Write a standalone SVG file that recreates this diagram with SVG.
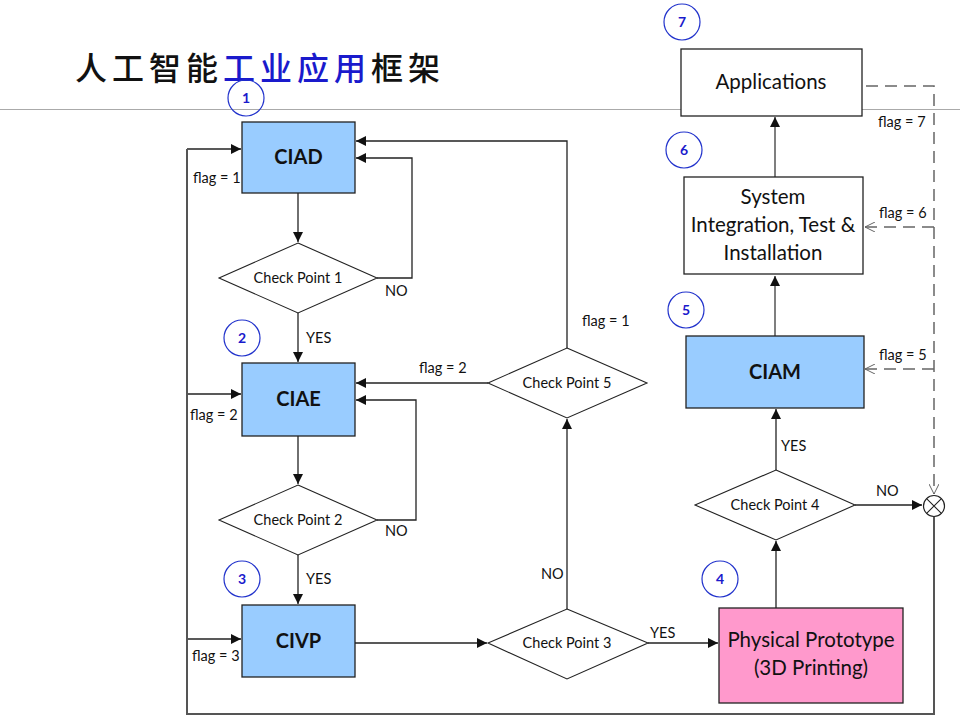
<svg xmlns="http://www.w3.org/2000/svg" width="960" height="720" viewBox="0 0 960 720">
<style>
.box{stroke:#222;stroke-width:1.3}
.blue{fill:#99CCFF}
.pink{fill:#FF99CC}
.white{fill:#fff}
.dia{fill:#fff;stroke:#222;stroke-width:1.1}
.lbl{font-family:Lato,"Liberation Sans",sans-serif;font-size:14.5px;fill:#111}
.big{font-family:Lato,"Liberation Sans",sans-serif;font-size:20.5px;fill:#111;text-anchor:middle}
.bold{font-family:Lato,"Liberation Sans",sans-serif;font-size:20px;font-weight:bold;fill:#111;text-anchor:middle}
.num circle{fill:none;stroke:#2233CC;stroke-width:1.2}
.num text{font-family:Lato,"Liberation Sans",sans-serif;font-size:14px;font-weight:bold;fill:#1a1acc;text-anchor:middle}
.c{fill:none;stroke:#222;stroke-width:1.3}
.g{fill:none;stroke:#555;stroke-width:2}
.d{fill:none;stroke:#666;stroke-width:1.5;stroke-dasharray:12,7}
</style>
<defs>
<marker id="a" viewBox="0 0 10 10" refX="10" refY="5" markerWidth="10" markerHeight="10" markerUnits="userSpaceOnUse" orient="auto">
<path d="M0,0 L10,5 L0,10 z" fill="#111"/>
</marker>
<marker id="o" viewBox="0 0 10 10" refX="10" refY="5" markerWidth="10" markerHeight="10" markerUnits="userSpaceOnUse" orient="auto">
<path d="M0,0 L10,5 L0,10" fill="none" stroke="#666" stroke-width="1"/>
</marker>
</defs>
<rect width="960" height="720" fill="#fff"/>
<g id="title">
<text x="75" y="80" font-family="'Noto Sans CJK SC',sans-serif" font-size="32" font-weight="500" letter-spacing="5" fill="#111">人工智能<tspan fill="#1a1acc">工业应用</tspan>框架</text>
<line x1="0" y1="109.5" x2="960" y2="109.5" stroke="#aaa" stroke-width="1"/>
</g>
<g id="connectors">
<path class="c" d="M298,193 V242" marker-end="url(#a)"/>
<path class="c" d="M377,278 H412 V158 H356" marker-end="url(#a)"/>
<path class="c" d="M298,313 V362" marker-end="url(#a)"/>
<path class="c" d="M298,436 V484" marker-end="url(#a)"/>
<path class="c" d="M377,520 H416 V400 H356" marker-end="url(#a)"/>
<path class="c" d="M298,555 V604" marker-end="url(#a)"/>
<path class="c" d="M187,639 H241" marker-end="url(#a)"/>
<path class="c" d="M187,394 H241" marker-end="url(#a)"/>
<path class="c" d="M187,149 H241" marker-end="url(#a)"/>
<path class="g" d="M187,149 V714 H934 V517"/>
<path class="c" d="M355,643 H487" marker-end="url(#a)"/>
<path class="c" d="M648,643 H718" marker-end="url(#a)"/>
<path class="c" d="M567,609 V419" marker-end="url(#a)"/>
<path class="c" d="M567,348 V141 H356" marker-end="url(#a)"/>
<path class="c" d="M488,383 H356" marker-end="url(#a)"/>
<path class="c" d="M776,608 V541" marker-end="url(#a)"/>
<path class="c" d="M776,470 V409" marker-end="url(#a)"/>
<path class="c" d="M855,505 H922" marker-end="url(#a)"/>
<path class="g" style="stroke-width:1.5" d="M775,336 V276" marker-end="url(#a)"/>
<path class="g" style="stroke-width:1.5" d="M775,177 V117" marker-end="url(#a)"/>
<path class="d" d="M866,86 H934 V494" marker-end="url(#o)"/>
<path class="d" d="M934,227 H865" marker-end="url(#o)"/>
<path class="d" d="M934,369 H865" marker-end="url(#o)"/>
<text class="lbl" x="193" y="183">flag = 1</text>
<text class="lbl" x="190" y="420">flag = 2</text>
<text class="lbl" x="192" y="661">flag = 3</text>
<text class="lbl" x="385" y="296">NO</text>
<text class="lbl" x="385" y="536">NO</text>
<text class="lbl" x="306" y="343">YES</text>
<text class="lbl" x="306" y="584">YES</text>
<text class="lbl" x="419" y="373">flag = 2</text>
<text class="lbl" x="582" y="326">flag = 1</text>
<text class="lbl" x="541" y="579">NO</text>
<text class="lbl" x="650" y="638">YES</text>
<text class="lbl" x="781" y="451">YES</text>
<text class="lbl" x="876" y="496">NO</text>
<text class="lbl" x="878" y="127">flag = 7</text>
<text class="lbl" x="879" y="218">flag = 6</text>
<text class="lbl" x="879" y="360">flag = 5</text>
</g>
<g id="xor">
<circle cx="934" cy="506" r="10.5" fill="#fff" stroke="#222" stroke-width="1.2"/>
<path d="M926.6,498.6 L941.4,513.4 M941.4,498.6 L926.6,513.4" stroke="#222" stroke-width="1.1"/>
</g>
<g id="CIAD"><rect class="box blue" x="242" y="122" width="113" height="71"/><text class="bold" x="298.5" y="164">CIAD</text></g>
<g id="CIAE"><rect class="box blue" x="242" y="363" width="113" height="73"/><text class="bold" x="298.5" y="406">CIAE</text></g>
<g id="CIVP"><rect class="box blue" x="242" y="605" width="113" height="72"/><text class="bold" x="298.5" y="648">CIVP</text></g>
<g id="CIAM"><rect class="box blue" x="686" y="336" width="178" height="72"/><text class="bold" x="775" y="379">CIAM</text></g>
<g id="PP"><rect class="box pink" x="719" y="608" width="184" height="95"/><text class="big" x="811" y="647">Physical Prototype</text><text class="big" x="811" y="675">(3D Printing)</text></g>
<g id="SIT"><rect class="box white" x="684" y="177" width="179" height="97"/><text class="big" x="773" y="204">System</text><text class="big" x="773" y="232">Integration, Test &amp;</text><text class="big" x="773" y="260">Installation</text></g>
<g id="APP"><rect class="box white" x="681" y="49" width="181" height="67"/><text class="big" x="771" y="89">Applications</text></g>
<g id="CP1"><path class="dia" d="M298,243 L377,278 L298,313 L219,278 z"/><text class="lbl" x="298" y="283" text-anchor="middle">Check Point 1</text></g>
<g id="CP2"><path class="dia" d="M298,485 L377,520 L298,555 L219,520 z"/><text class="lbl" x="298" y="525" text-anchor="middle">Check Point 2</text></g>
<g id="CP3"><path class="dia" d="M567,609 L648,643 L567,679 L488,643 z"/><text class="lbl" x="567" y="648" text-anchor="middle">Check Point 3</text></g>
<g id="CP4"><path class="dia" d="M776,470 L855,505 L776,540 L695,505 z"/><text class="lbl" x="775" y="510" text-anchor="middle">Check Point 4</text></g>
<g id="CP5"><path class="dia" d="M567,348 L647,383 L567,418 L488,383 z"/><text class="lbl" x="567" y="388" text-anchor="middle">Check Point 5</text></g>
<g id="n1" class="num"><circle cx="246" cy="98" r="18"/><text x="246" y="103">1</text></g>
<g id="n2" class="num"><circle cx="242" cy="338" r="18"/><text x="242" y="343">2</text></g>
<g id="n3" class="num"><circle cx="242" cy="579" r="18"/><text x="242" y="584">3</text></g>
<g id="n4" class="num"><circle cx="720" cy="579" r="18"/><text x="720" y="584">4</text></g>
<g id="n5" class="num"><circle cx="686" cy="310" r="18"/><text x="686" y="315">5</text></g>
<g id="n6" class="num"><circle cx="684" cy="150" r="18"/><text x="684" y="155">6</text></g>
<g id="n7" class="num"><circle cx="682" cy="22" r="18"/><text x="682" y="27">7</text></g>
</svg>
